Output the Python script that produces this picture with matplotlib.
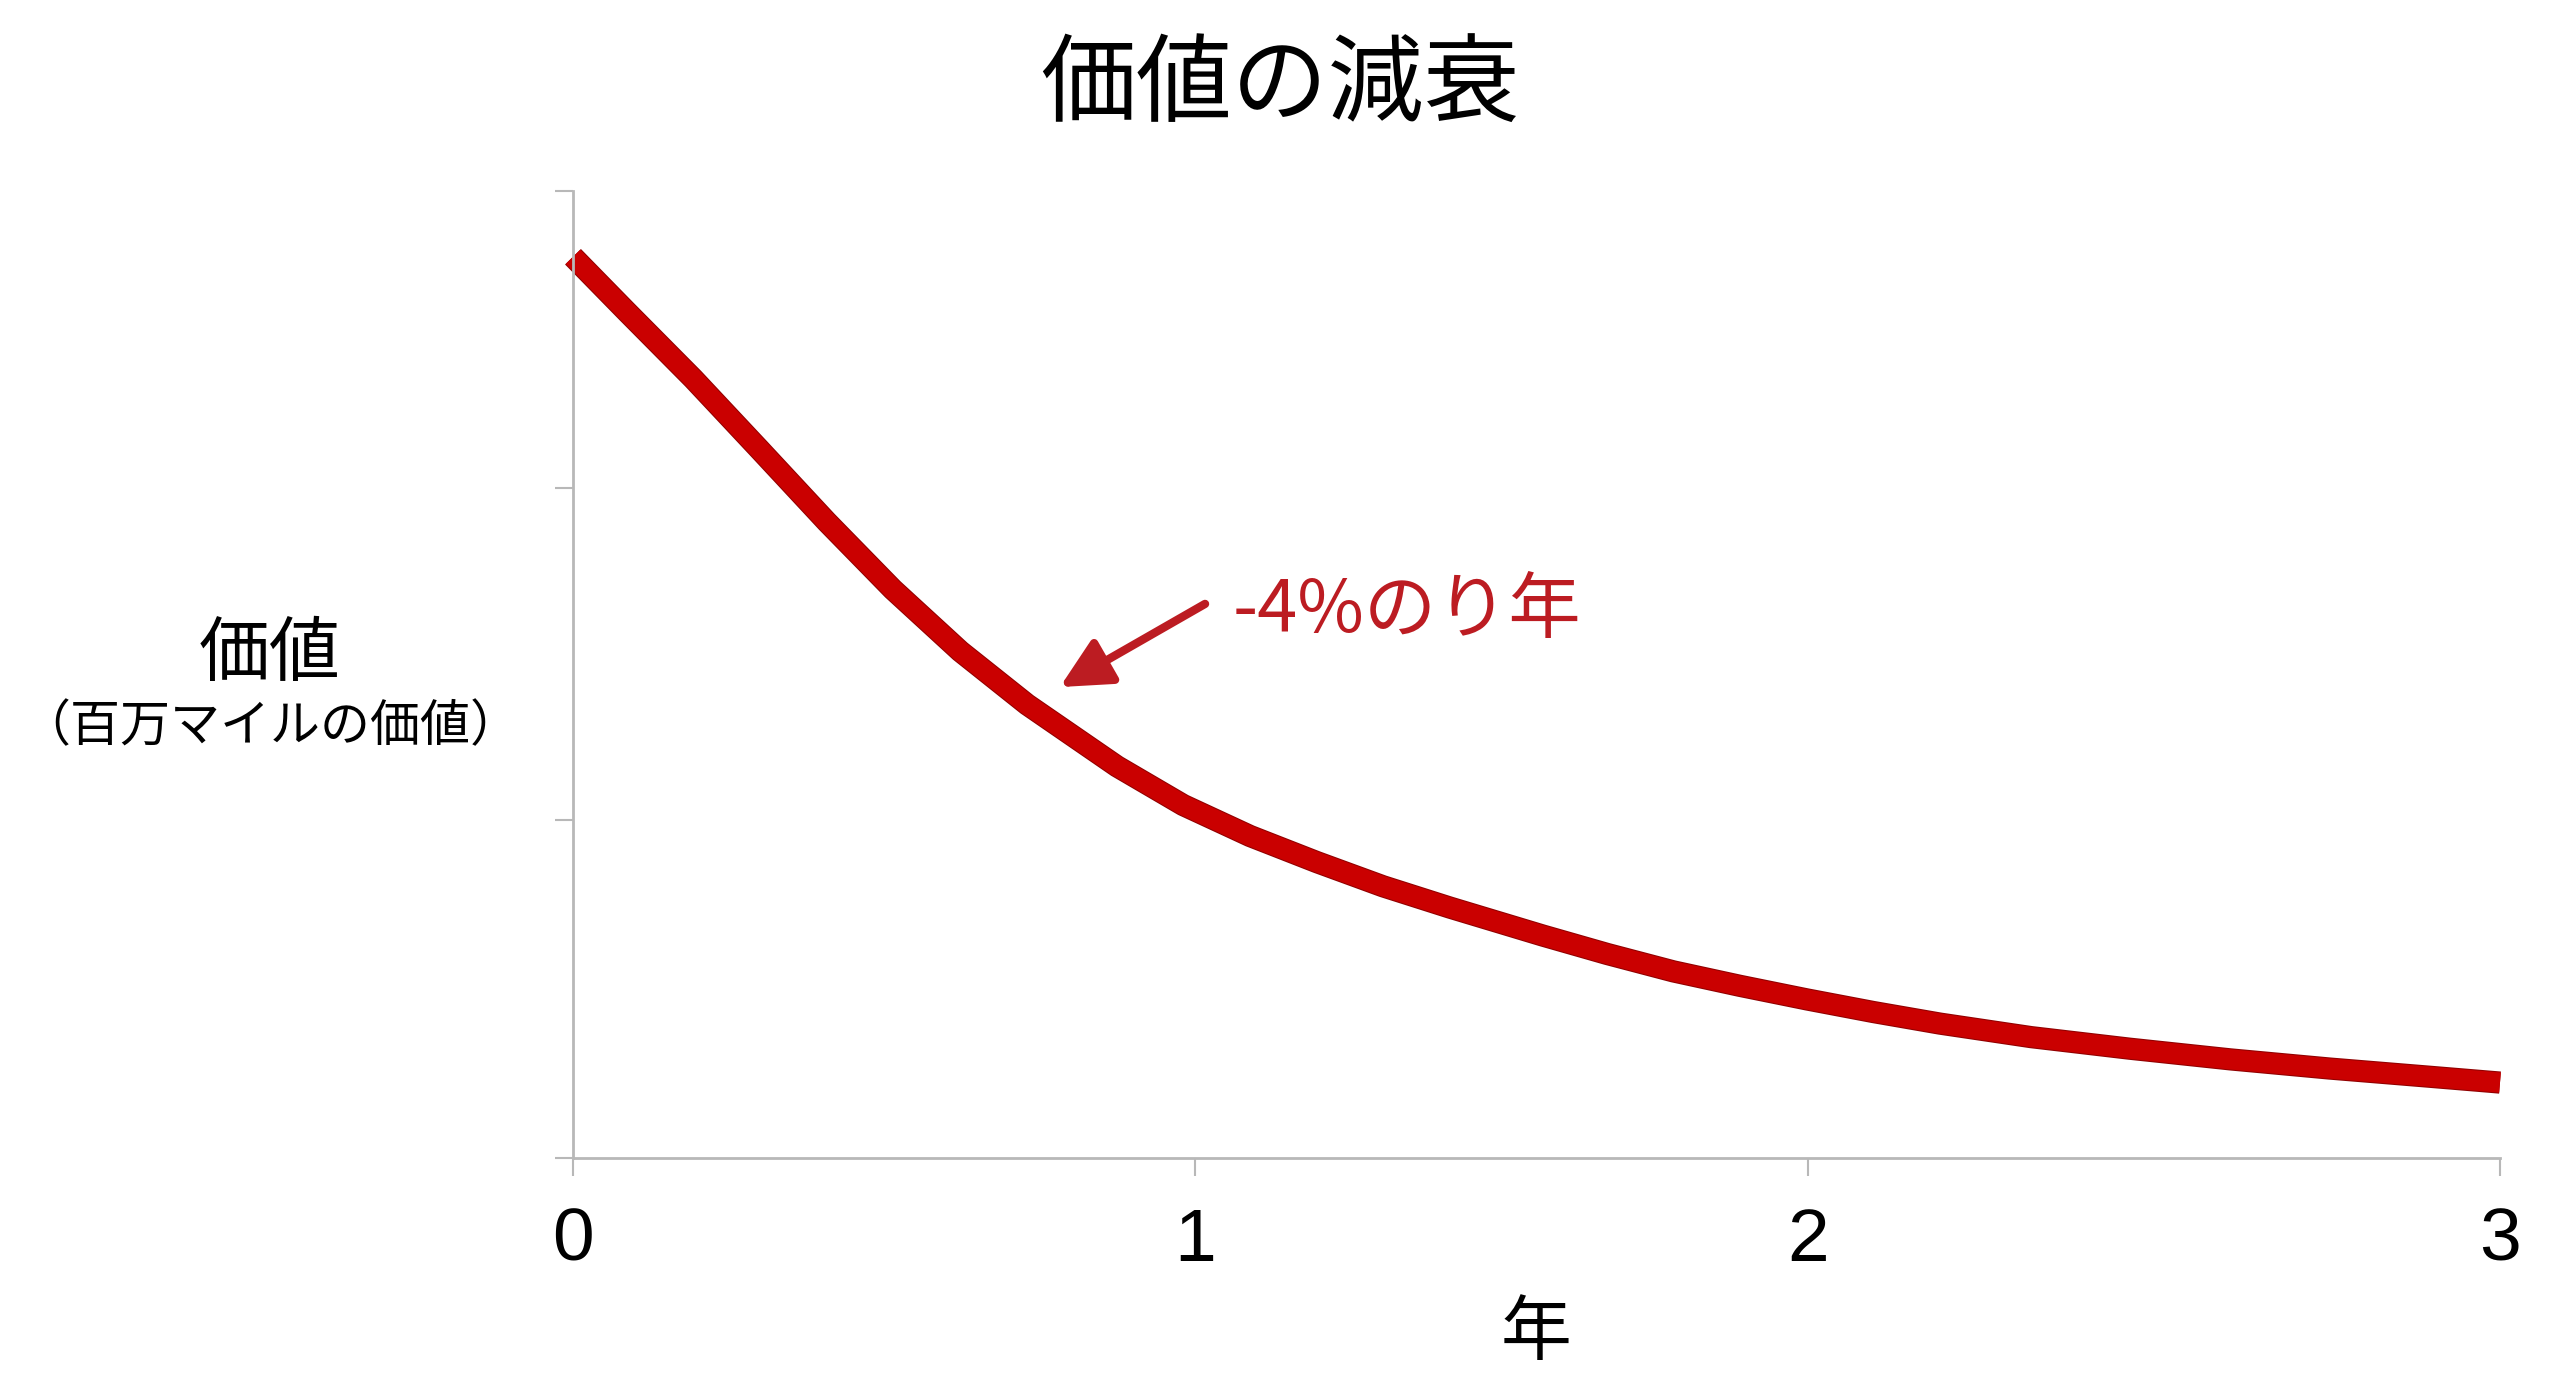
import matplotlib
matplotlib.use("Agg")
import matplotlib.pyplot as plt
import matplotlib.patheffects as pe

plt.rcParams['font.family'] = ['Noto Sans CJK JP', 'DejaVu Sans']

# values (x in years, y on a 0-100 scale)
years = [0.0, 0.084, 0.187, 0.290, 0.395, 0.498, 0.603, 0.707, 0.847, 0.950,
         1.054, 1.158, 1.261, 1.365, 1.51, 1.610, 1.713, 1.817, 1.921, 2.024,
         2.128, 2.27, 2.424, 2.580, 2.735, 2.891, 3.0]
value = [93.2, 87.5, 80.6, 73.3, 65.8, 58.8, 52.4, 46.9, 40.5, 36.5,
         33.3, 30.6, 28.1, 25.9, 23.0, 21.1, 19.3, 17.8, 16.4, 15.1,
         13.9, 12.5, 11.3, 10.2, 9.25, 8.4, 7.8]

xtick_pos = [0, 0.968, 1.923, 3.0]
xtick_labels = ['0', '1', '2', '3']
ytick_pos = [0, 35.0, 69.3, 100]

title = '価値の減衰'
ylabel_main = '価値'
ylabel_sub = '（百万マイルの価値）'
xlabel = '年'
note = '-4%のり年'
note_xy = (1.0275, 56.5)
arrow_tail = (0.984, 57.3)
arrow_head = (0.758, 48.7)

red = '#CA0000'
note_red = '#BC1C22'
axis_grey = '#B8B8B8'

fig = plt.figure(figsize=(25.6, 13.96), dpi=100)
fig.patch.set_facecolor('white')
ax = fig.add_axes([573 / 2560, 1 - 1158 / 1396, (2500 - 573) / 2560, (1158 - 191) / 1396])

ax.plot(years, value, color=red, lw=14.5, solid_capstyle='butt', solid_joinstyle='round',
        clip_on=False,
        path_effects=[pe.Stroke(linewidth=16, foreground='#900000', capstyle='butt',
                                joinstyle='round'), pe.Normal()])

ax.set_xlim(0, 3)
ax.set_ylim(0, 100)
for s in ['top', 'right']:
    ax.spines[s].set_visible(False)
for s in ['left', 'bottom']:
    ax.spines[s].set_color(axis_grey)
    ax.spines[s].set_linewidth(2)

ax.set_xticks(xtick_pos)
ax.set_xticklabels(xtick_labels, fontfamily='Liberation Sans', fontsize=54)
ax.set_yticks(ytick_pos)
ax.set_yticklabels([])
ax.tick_params(axis='both', direction='out', length=13, width=1.5, color=axis_grey)
ax.tick_params(axis='x', pad=22)

ax.set_xlabel(xlabel, fontsize=51, va='center')
ax.xaxis.set_label_coords(0.5, -(1334 - 1158) / 967)

fig.suptitle(title, fontsize=69, x=0.5, y=1 - 86 / 1396, va='center')
fig.text(270 / 2560, 1 - 654 / 1396, ylabel_main, fontsize=51, ha='center', va='center')
fig.text(270 / 2560, 1 - 727 / 1396, ylabel_sub, fontsize=36, ha='center', va='center')

ax.text(note_xy[0], note_xy[1], note, color=note_red, fontsize=52, ha='left', va='center')
ax.annotate('', xy=arrow_head, xytext=arrow_tail,
            arrowprops=dict(arrowstyle='-|>', mutation_scale=76, lw=6,
                            color=note_red, shrinkA=0, shrinkB=0))

fig.savefig('out.png', dpi=100, facecolor='white')
